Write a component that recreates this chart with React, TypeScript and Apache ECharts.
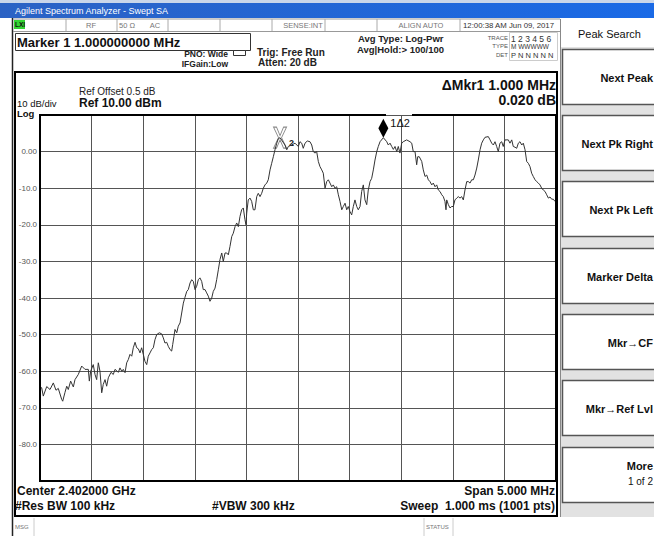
import React, { useEffect, useRef } from "react";
import * as echarts from "echarts";

// Frequency offset from center (MHz), center = 2.402000 GHz, span 5 MHz
const freqMHz = [
  -2.500, -2.484, -2.468, -2.435, -2.403, -2.371, -2.345, -2.323, -2.290, -2.280,
  -2.258, -2.241, -2.226, -2.203, -2.177, -2.161, -2.129, -2.096, -2.064, -2.032,
  -2.022, -2.009, -1.984, -1.967, -1.951, -1.935, -1.919, -1.902, -1.887, -1.870,
  -1.854, -1.838, -1.812, -1.790, -1.773, -1.741, -1.725, -1.708, -1.693, -1.676,
  -1.660, -1.644, -1.628, -1.611, -1.596, -1.579, -1.563, -1.547, -1.531, -1.515,
  -1.499, -1.483, -1.466, -1.451, -1.434, -1.418, -1.402, -1.386, -1.369, -1.344,
  -1.321, -1.305, -1.289, -1.272, -1.257, -1.240, -1.224, -1.214, -1.202, -1.192,
  -1.175, -1.160, -1.143, -1.127, -1.111, -1.102, -1.095, -1.078, -1.063, -1.046,
  -1.030, -1.014, -0.998, -0.982, -0.966, -0.950, -0.933, -0.918, -0.901, -0.885,
  -0.869, -0.853, -0.836, -0.821, -0.804, -0.788, -0.772, -0.756, -0.739, -0.724,
  -0.707, -0.691, -0.675, -0.659, -0.642, -0.627, -0.610, -0.594, -0.578, -0.562,
  -0.546, -0.530, -0.514, -0.504, -0.497, -0.482, -0.465, -0.449, -0.433, -0.417,
  -0.400, -0.385, -0.368, -0.352, -0.336, -0.320, -0.303, -0.288, -0.271, -0.255,
  -0.239, -0.223, -0.206, -0.191, -0.174, -0.126, -0.109, -0.094, -0.061, -0.029,
  0.003, 0.019, 0.036, 0.051, 0.068, 0.090, 0.116, 0.133, 0.148, 0.165,
  0.181, 0.197, 0.213, 0.230, 0.245, 0.262, 0.278, 0.294, 0.310, 0.327,
  0.342, 0.359, 0.375, 0.391, 0.407, 0.424, 0.439, 0.456, 0.472, 0.487,
  0.504, 0.520, 0.536, 0.552, 0.569, 0.584, 0.601, 0.617, 0.633, 0.649,
  0.666, 0.681, 0.698, 0.714, 0.730, 0.746, 0.763, 0.778, 0.795, 0.827,
  0.860, 0.875, 0.892, 0.908, 0.924, 0.940, 0.957, 0.972, 0.988, 1.005,
  1.020, 1.053, 1.085, 1.102, 1.117, 1.134, 1.150, 1.160, 1.175, 1.199,
  1.214, 1.231, 1.247, 1.263, 1.279, 1.296, 1.311, 1.328, 1.344, 1.360,
  1.376, 1.393, 1.408, 1.424, 1.434, 1.441, 1.457, 1.473, 1.489, 1.505,
  1.521, 1.538, 1.553, 1.570, 1.586, 1.602, 1.618, 1.635, 1.650, 1.667,
  1.683, 1.699, 1.715, 1.732, 1.747, 1.764, 1.780, 1.796, 1.812, 1.844,
  1.861, 1.877, 1.893, 1.909, 1.925, 1.941, 1.957, 1.974, 1.989, 2.006,
  2.038, 2.054, 2.071, 2.086, 2.103, 2.119, 2.135, 2.151, 2.168, 2.183,
  2.200, 2.216, 2.232, 2.248, 2.264, 2.280, 2.297, 2.313, 2.329, 2.345,
  2.361, 2.377, 2.394, 2.410, 2.426, 2.442, 2.458, 2.474, 2.490, 2.500,
];

// Trace level (dBm)
const levelDbm = [
  -64.5, -64.5, -66.8, -64.2, -65.0, -63.2, -65.2, -64.7, -67.7, -68.2,
  -65.8, -64.1, -65.0, -62.7, -64.3, -62.3, -60.9, -58.6, -59.5, -59.5,
  -62.7, -60.0, -58.2, -60.9, -62.3, -57.7, -60.0, -65.9, -63.6, -62.3,
  -64.1, -61.8, -60.3, -60.9, -59.5, -60.3, -59.1, -60.0, -59.5, -60.4,
  -57.7, -56.8, -55.4, -55.9, -53.6, -52.1, -53.6, -53.9, -55.0, -53.6,
  -55.4, -57.3, -58.2, -55.9, -55.0, -54.1, -53.6, -51.4, -50.0, -49.5,
  -49.8, -50.9, -52.3, -52.1, -53.2, -54.1, -54.5, -52.7, -50.5, -48.6,
  -49.5, -47.7, -46.8, -44.1, -41.4, -40.5, -39.8, -38.2, -37.7, -35.9,
  -35.0, -35.5, -37.7, -36.8, -35.0, -34.5, -35.5, -37.7, -37.7, -38.6,
  -39.5, -40.9, -40.0, -38.2, -37.3, -35.0, -32.3, -29.5, -27.7, -30.0,
  -27.7, -27.7, -28.2, -25.9, -23.2, -22.3, -20.5, -19.5, -20.5, -17.7,
  -15.9, -15.4, -18.6, -20.0, -16.8, -13.2, -12.7, -13.6, -15.9, -15.9,
  -12.3, -11.4, -12.3, -11.4, -10.0, -9.1, -8.6, -7.7, -5.0, -3.2,
  -1.4, 0.5, 2.3, 3.5, 3.8, 1.8, 0.5, 1.4, 1.8, 2.3,
  1.4, 2.7, 2.3, 0.9, 2.3, 2.9, 2.7, 1.8, 0.0, -0.4,
  0.0, -2.7, -4.1, -5.0, -5.9, -10.0, -8.2, -7.7, -8.6, -9.6,
  -9.1, -10.0, -9.6, -11.8, -13.6, -15.9, -15.0, -14.1, -15.9, -15.0,
  -16.4, -17.3, -15.0, -13.2, -15.0, -15.9, -15.0, -10.9, -9.1, -13.2,
  -14.5, -10.5, -8.2, -7.3, -5.0, -2.3, 0.0, 1.4, 2.7, 3.8,
  2.7, 1.8, 2.3, 1.4, 0.6, 1.4, 0.0, 1.4, -0.4, 2.3,
  2.7, 3.2, 2.7, 2.3, 0.0, 0.0, -3.6, -1.4, -1.4, -2.7,
  -5.0, -6.8, -6.4, -7.7, -8.2, -9.1, -8.6, -9.6, -9.1, -10.5,
  -10.9, -11.8, -12.3, -13.6, -15.9, -13.2, -14.5, -15.4, -15.0, -15.0,
  -13.2, -12.7, -12.3, -12.7, -12.3, -13.2, -10.5, -8.2, -8.2, -8.6,
  -7.7, -7.7, -6.4, -4.5, -2.3, 0.5, 2.3, 3.2, 3.9, 4.1,
  3.2, 2.3, 1.8, 2.7, 1.4, 0.0, 2.3, 2.7, 1.4, 3.2,
  3.2, 2.3, 3.2, 1.4, 1.2, 0.9, 2.3, 2.7, 1.8, 2.3,
  0.5, -2.7, -3.2, -4.1, -5.9, -6.8, -7.7, -8.2, -8.6, -9.1,
  -10.0, -10.5, -10.9, -11.8, -12.7, -12.4, -13.0, -13.0, -13.6, -13.7,
];

const yTickValues = [0, -10, -20, -30, -40, -50, -60, -70, -80];
const yTickLabels = ["0.00", "-10.0", "-20.0", "-30.0", "-40.0", "-50.0", "-60.0", "-70.0", "-80.0"];

const marker1Index = 189; // delta marker 1
const marker2Index = 134; // reference marker 2

const statusCells = [
  { text: "RF", x: 91 },
  { text: "50 Ω", x: 127 },
  { text: "AC", x: 155 },
  { text: "SENSE:INT", x: 303 },
  { text: "ALIGN AUTO", x: 421 },
];
const statusDividers = [66, 117, 168, 220, 272, 325, 377, 460];
const softkeys = ["Next Peak", "Next Pk Right", "Next Pk Left", "Marker Delta", "Mkr→CF", "Mkr→Ref Lvl", "More"];
const softkeyTops = [49, 115, 181, 248, 314, 380, 447];

const FONT = '"Liberation Sans", Arial, sans-serif';

function T(x: number, y: number, text: string, size: number, o: any = {}) {
  return {
    type: "text",
    x,
    y,
    silent: true,
    z: 20,
    style: {
      text,
      fontSize: size,
      fontFamily: FONT,
      fontWeight: o.bold ? "bold" : "normal",
      fill: o.fill || "#111",
      align: o.align || "left",
      textAlign: o.align || "left",
      verticalAlign: "middle",
      textVerticalAlign: "middle",
    },
  };
}
function L(x1: number, y1: number, x2: number, y2: number, stroke = "#000", lw = 1, z = 15) {
  return { type: "line", silent: true, z, shape: { x1, y1, x2, y2 }, style: { stroke, lineWidth: lw } };
}
function R(x: number, y: number, w: number, h: number, fill: any, stroke: any = null, lw = 1, z = 1) {
  return { type: "rect", silent: true, z, shape: { x, y, width: w, height: h }, style: { fill, stroke, lineWidth: lw } };
}

export default function App() {
  const ref = useRef<HTMLDivElement>(null);
  useEffect(() => {
    if (!ref.current) return;
    const chart = echarts.init(ref.current, null, { renderer: "svg" });
    const data = freqMHz.map((f, i) => [f, levelDbm[i]]);

    const graphics: any[] = [];
    // window frame / title bar
    graphics.push(R(0, 0, 654, 3, "#c9d6ea", null, 1, 1));
    graphics.push(
      R(0, 3, 654, 15, new echarts.graphic.LinearGradient(0, 0, 1, 0, [
        { offset: 0, color: "#2b62c4" },
        { offset: 1, color: "#1a6ae6" },
      ]), null, 1, 1)
    );
    graphics.push(T(15, 11, "Agilent Spectrum Analyzer - Swept SA", 9, { fill: "#fff" }));
    graphics.push(L(12.5, 18, 12.5, 536, "#222", 1.5));
    // status row
    graphics.push(L(13, 19, 560, 19, "#999", 1));
    graphics.push(L(13, 31.5, 560, 31.5, "#999", 1));
    graphics.push(R(14, 20, 11, 9, "#33d633", null, 1, 2));
    graphics.push(T(15, 24.5, "LXI", 6.5, { bold: true }));
    statusDividers.forEach((x) => graphics.push(L(x, 19, x, 31, "#aaa", 1)));
    statusCells.forEach((c) => graphics.push(T(c.x, 25, c.text, 7.5, { fill: "#777", align: "center" })));
    graphics.push(T(463, 25, "12:00:38 AM Jun 09, 2017", 7.8, { fill: "#333" }));
    // marker readout
    graphics.push(R(15.5, 33.5, 235, 17, "#fff", "#333", 1, 2));
    graphics.push(T(17, 42.5, "Marker 1 1.000000000 MHz", 13, { bold: true }));
    graphics.push(T(228, 54, "PNO: Wide", 8.5, { bold: true, align: "right", fill: "#222" }));
    graphics.push(R(233.5, 50.5, 12, 5, "#fff", "#333", 1, 2));
    graphics.push(T(228, 64, "IFGain:Low", 8.5, { bold: true, align: "right", fill: "#222" }));
    graphics.push(T(257, 52, "Trig: Free Run", 10, { bold: true, fill: "#222" }));
    graphics.push(T(258, 62, "Atten: 20 dB", 10, { bold: true, fill: "#222" }));
    graphics.push(T(358, 38, "Avg Type: Log-Pwr", 9.5, { bold: true, fill: "#222" }));
    graphics.push(T(357, 49, "Avg|Hold:> 100/100", 9.5, { bold: true, fill: "#222" }));
    graphics.push(R(509.5, 32.5, 48, 28, "#fff", "#ccc", 1, 2));
    graphics.push(T(508, 38, "TRACE", 6, { align: "right", fill: "#555" }));
    graphics.push(T(511, 38.5, "1 2 3 4 5 6", 8.5, { fill: "#333" }));
    graphics.push(T(508, 46, "TYPE", 6, { align: "right", fill: "#555" }));
    graphics.push(T(511, 46, "M WWWWW", 6.5, { fill: "#333" }));
    graphics.push(T(508, 55, "DET", 6, { align: "right", fill: "#555" }));
    graphics.push(T(511, 55, "P N N N N N", 7.5, { fill: "#333" }));
    // plot panel
    graphics.push(R(15, 72, 542, 444, null, "#000", 2, 15));
    graphics.push(T(79, 91.5, "Ref Offset 0.5 dB", 10, { fill: "#222" }));
    graphics.push(T(17, 103.5, "10 dB/div", 9.5, { fill: "#111" }));
    graphics.push(T(79, 103, "Ref 10.00 dBm", 12, { bold: true }));
    graphics.push(T(17, 113.5, "Log", 9.5, { bold: true }));
    graphics.push(T(556, 85, "ΔMkr1 1.000 MHz", 14, { bold: true, align: "right" }));
    graphics.push(T(556, 100, "0.020 dB", 14, { bold: true, align: "right" }));
    // plot border with gap for marker label
    graphics.push(L(40, 115, 386, 115, "#000", 2));
    graphics.push(L(412, 115, 556, 115, "#000", 2));
    graphics.push(L(40, 114, 40, 481, "#000", 2));
    graphics.push(L(556, 114, 556, 481, "#000", 2));
    graphics.push(L(39, 481, 557, 481, "#000", 2));
    // footer text
    graphics.push(T(17, 491, "Center 2.402000 GHz", 12, { bold: true }));
    graphics.push(T(15, 506, "#Res BW 100 kHz", 12, { bold: true }));
    graphics.push(T(212, 506, "#VBW 300 kHz", 12, { bold: true }));
    graphics.push(T(555, 491, "Span 5.000 MHz", 12, { bold: true, align: "right" }));
    graphics.push(T(555, 506, "Sweep  1.000 ms (1001 pts)", 12, { bold: true, align: "right" }));
    // message row
    graphics.push(T(15, 527, "MSG", 6, { fill: "#777" }));
    graphics.push(L(34, 518, 34, 536, "#ccc", 1));
    graphics.push(L(424, 518, 424, 536, "#ccc", 1));
    graphics.push(L(453, 518, 453, 536, "#ccc", 1));
    graphics.push(T(426, 527, "STATUS", 6, { fill: "#777" }));
    // softkey panel
    graphics.push(R(560, 19, 94, 498, "#e2e2e2", null, 1, 1));
    graphics.push(R(561, 19, 93, 28, "#fff", null, 1, 2));
    graphics.push(L(560.5, 19, 560.5, 517, "#888", 1));
    graphics.push(T(578, 34, "Peak Search", 11, { fill: "#111" }));
    softkeys.forEach((k, i) => {
      const top = softkeyTops[i];
      graphics.push(R(562.5, top + 0.5, 100, 55, "#fff", "#555", 1.5, 2));
      if (k === "More") {
        graphics.push(T(653, top + 19, k, 11, { bold: true, align: "right" }));
        graphics.push(T(653, top + 34, "1 of 2", 10, { align: "right" }));
      } else {
        graphics.push(T(653, top + 29, k, 11, { bold: true, align: "right" }));
      }
    });

    const xShape = "path://M0,0 L3,0 L6.5,8 L10,0 L13,0 L8,10 L13,20 L10,20 L6.5,12 L3,20 L0,20 L5,10 Z";

    const option: any = {
      animation: false,
      backgroundColor: "#fff",
      grid: { left: 40, top: 115, width: 516, height: 366, show: false },
      xAxis: {
        type: "value",
        min: -2.5,
        max: 2.5,
        interval: 0.5,
        axisLine: { show: false },
        axisTick: { show: false },
        axisLabel: { show: false },
        splitLine: { show: true, lineStyle: { color: "#555", width: 1 } },
      },
      yAxis: {
        type: "value",
        min: -90,
        max: 10,
        interval: 10,
        axisLine: { show: false },
        axisTick: { show: false },
        axisLabel: {
          color: "#555",
          fontSize: 8,
          fontFamily: FONT,
          margin: 3,
          formatter: (v: number) => {
            const i = yTickValues.indexOf(Math.round(v));
            return i >= 0 ? yTickLabels[i] : "";
          },
        },
        splitLine: { show: true, lineStyle: { color: "#555", width: 1 } },
      },
      series: [
        {
          type: "line",
          data,
          symbol: "none",
          lineStyle: { color: "#333", width: 1 },
          z: 5,
          markPoint: {
            silent: true,
            data: [
              {
                coord: [freqMHz[marker1Index], levelDbm[marker1Index]],
                symbol: "diamond",
                symbolSize: [10, 19],
                symbolOffset: [0, "-50%"],
                itemStyle: { color: "#000" },
                label: {
                  show: true,
                  position: "right",
                  formatter: "1Δ2",
                  color: "#111",
                  fontSize: 11,
                  fontFamily: FONT,
                  offset: [-3, -5],
                },
              },
              {
                coord: [freqMHz[marker2Index], levelDbm[marker2Index]],
                symbol: xShape,
                symbolSize: [13, 21],
                itemStyle: { color: "#fff", borderColor: "#888", borderWidth: 1 },
                label: {
                  show: true,
                  position: "right",
                  formatter: "2",
                  color: "#222",
                  fontSize: 9,
                  fontWeight: "bold",
                  fontFamily: FONT,
                  offset: [-3, 5],
                },
              },
            ],
          },
        },
      ],
      graphic: { elements: graphics },
    };
    chart.setOption(option);
    return () => chart.dispose();
  }, []);
  return <div ref={ref} style={{ position: "fixed", left: 0, top: 0, width: 654, height: 536 }} />;
}
